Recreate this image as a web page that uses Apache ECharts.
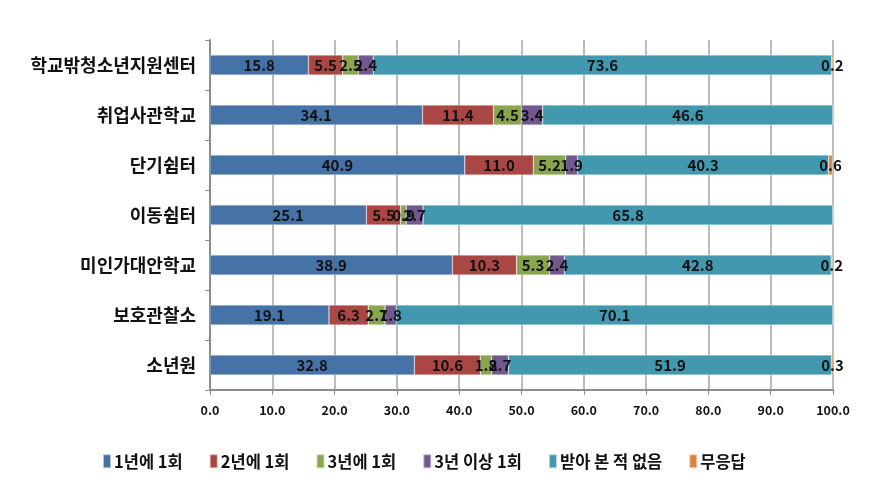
<!DOCTYPE html>
<html>
<head>
<meta charset="utf-8">
<script src="https://cdn.jsdelivr.net/npm/echarts@6/dist/echarts.min.js"></script>
<style>
  html, body { margin: 0; padding: 0; background: #fff; }
  #chart { width: 887px; height: 484px; }
</style>
</head>
<body>
<div id="chart"></div>
<script>
// 기관
const categories = ['학교밖청소년지원센터', '취업사관학교', '단기쉼터', '이동쉼터', '미인가대안학교', '보호관찰소', '소년원'];

// 응답 비율 (%)
const oncePerYear = [15.8, 34.1, 40.9, 25.1, 38.9, 19.1, 32.8];
const oncePer2Years = [5.5, 11.4, 11.0, 5.5, 10.3, 6.3, 10.6];
const oncePer3Years = [2.5, 4.5, 5.2, 0.9, 5.3, 2.7, 1.8];
const over3Years = [2.4, 3.4, 1.9, 2.7, 2.4, 1.8, 2.7];
const never = [73.6, 46.6, 40.3, 65.8, 42.8, 70.1, 51.9];
const noAnswer = [0.2, 0, 0.6, 0, 0.2, 0, 0.3];

const xTicks = [0, 10, 20, 30, 40, 50, 60, 70, 80, 90, 100];

const seriesDefs = [
  { name: '1년에 1회', data: oncePerYear, color: '#4572A7' },
  { name: '2년에 1회', data: oncePer2Years, color: '#AA4643' },
  { name: '3년에 1회', data: oncePer3Years, color: '#89A54E' },
  { name: '3년 이상 1회', data: over3Years, color: '#71588F' },
  { name: '받아 본 적 없음', data: never, color: '#4198AF' },
  { name: '무응답', data: noAnswer, color: '#DB843D' }
];

const krFont = "'Noto Sans CJK KR', sans-serif";

const chart = echarts.init(document.getElementById('chart'));
chart.setOption({
  animation: false,
  grid: { left: 210, right: 54, top: 40, bottom: 94 },
  legend: {
    top: 448,
    left: 97,
    itemWidth: 8,
    itemHeight: 14,
    itemGap: 26,
    icon: 'rect',
    textStyle: { fontFamily: krFont, fontSize: 16.5, fontWeight: 'bold', color: '#111', padding: [0, 0, 0, -2] },
    data: seriesDefs.map(s => s.name)
  },
  xAxis: {
    type: 'value',
    min: 0,
    max: 100,
    interval: 10,
    axisLine: { show: true, lineStyle: { color: '#8c8c8c', width: 2 } },
    axisTick: { show: true, length: 5, lineStyle: { color: '#8c8c8c' } },
    splitLine: { show: true, lineStyle: { color: '#a6a6a6', width: 1.5 } },
    axisLabel: {
      margin: 14,
      fontFamily: krFont,
      fontWeight: 'bold',
      fontSize: 12.5,
      color: '#111',
      formatter: v => xTicks.includes(v) ? v.toFixed(1) : ''
    }
  },
  yAxis: {
    type: 'category',
    inverse: true,
    data: categories,
    axisLine: { show: true, lineStyle: { color: '#8c8c8c', width: 2 } },
    axisTick: { show: true, length: 5, lineStyle: { color: '#8c8c8c' } },
    axisLabel: {
      margin: 14,
      fontFamily: krFont,
      fontSize: 18,
      fontWeight: 'bold',
      color: '#111'
    }
  },
  series: seriesDefs.map(s => ({
    name: s.name,
    type: 'bar',
    stack: 'total',
    barWidth: '40%',
    data: s.data,
    itemStyle: { color: s.color, borderColor: 'rgba(255,255,255,0.6)', borderWidth: 0.5 },
    labelLayout: { hideOverlap: false },
    label: {
      show: true,
      position: 'inside',
      fontFamily: krFont,
      fontWeight: 'bold',
      fontSize: 15,
      color: '#111',
      formatter: p => p.value > 0 ? p.value.toFixed(1) : ''
    }
  }))
});
</script>
</body>
</html>
